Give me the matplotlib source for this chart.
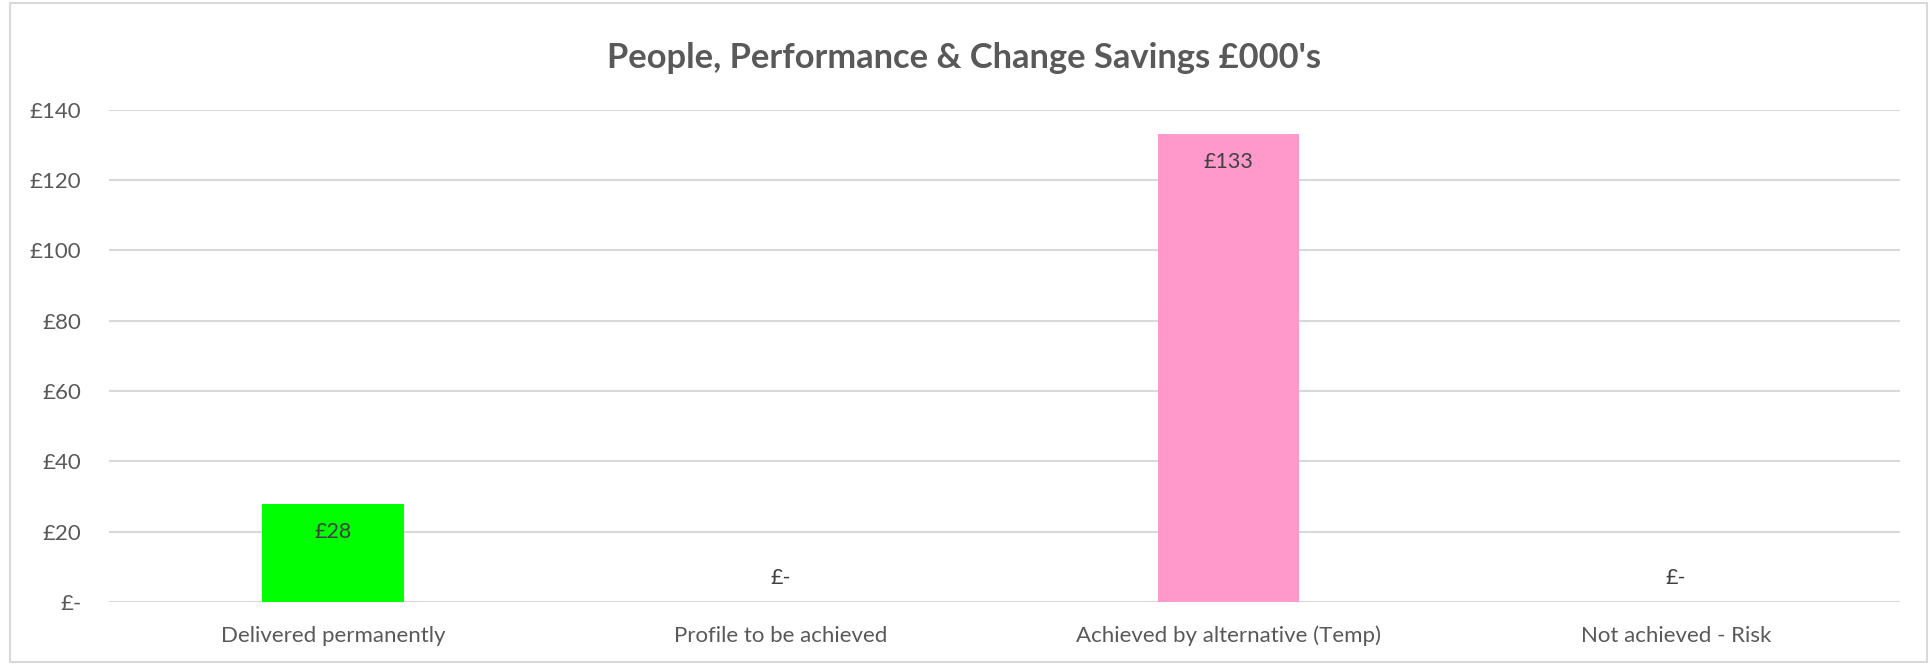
import matplotlib
matplotlib.use("Agg")
import matplotlib.pyplot as plt
from matplotlib.patches import Rectangle

categories = ["Delivered permanently", "Profile to be achieved",
              "Achieved by alternative (Temp)", "Not achieved - Risk"]
values = [28, 0, 133, 0]
colors = ["#00FF00", "#FF99CC", "#FF99CC", "#FF99CC"]
yticks = [0, 20, 40, 60, 80, 100, 120, 140]
ytick_labels = ["£-", "£20", "£40", "£60", "£80", "£100", "£120", "£140"]
title = "People, Performance & Change Savings £000's"

plt.rcParams['font.family'] = ['Lato', 'DejaVu Sans']

W, H, DPI = 1929, 664, 100
fig = plt.figure(figsize=(W / DPI, H / DPI), dpi=DPI)
fig.patch.set_facecolor("white")

# outer chart border
fig.patches.append(Rectangle((10 / W, 2 / H), (1927 - 10) / W, (661 - 2) / H,
                             transform=fig.transFigure, fill=False,
                             edgecolor="#D9D9D9", linewidth=1.5))

left, right = 109 / W, 1900 / W
bottom, top = 1 - 602 / H, 1 - 109.5 / H
ax = fig.add_axes([left, bottom, right - left, top - bottom])

x = list(range(len(categories)))
bars = ax.bar(x, values, width=0.316, color=colors, zorder=3)

ax.set_xlim(-0.5, len(categories) - 0.5)
ax.set_ylim(0, 140)
ax.set_yticks(yticks)
ax.set_yticklabels(ytick_labels)
ax.set_xticks(x)
ax.set_xticklabels(categories)
ax.grid(axis="y", color="#D9D9D9", linewidth=1.5, zorder=0)
for s in ax.spines.values():
    s.set_visible(False)
ax.tick_params(axis="both", length=0, labelsize=16, colors="#595959")
ax.tick_params(axis="y", pad=20)
ax.tick_params(axis="x", pad=17)

for xi, v in zip(x, values):
    lab = "£-" if v == 0 else f"£{v}"
    if v == 0:
        ax.annotate(lab, (xi, v), xytext=(0, 24), textcoords="offset pixels",
                    ha="center", va="center", fontsize=15.5, color="#404040", zorder=4)
    else:
        ax.annotate(lab, (xi, v), xytext=(0, -28), textcoords="offset pixels",
                    ha="center", va="center", fontsize=15.5, color="#404040", zorder=4)

fig.text(0.5, 1 - 58 / H, title, ha="center", va="center",
         fontsize=24.8, fontweight="bold", color="#595959")

fig.savefig("out.png", dpi=DPI, facecolor="white")
